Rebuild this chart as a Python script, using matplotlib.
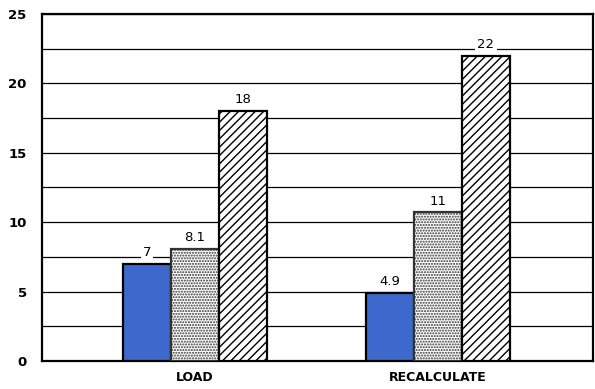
import matplotlib
matplotlib.use('Agg')
import matplotlib.pyplot as plt
import numpy as np

categories = ['LOAD', 'RECALCULATE']
series_a = [7, 4.9]
series_b = [8.1, 10.7]
series_c = [18, 22]
labels_a = ['7', '4.9']
labels_b = ['8.1', '11']
labels_c = ['18', '22']

plt.rcParams['hatch.linewidth'] = 1.0
fig = plt.figure(figsize=(5.95, 3.89), dpi=100)
ax = fig.add_axes([0.0706, 0.072, 0.926, 0.892])

x = np.arange(len(categories))
w = 0.1975
styles = [
    (series_a, labels_a, -w, dict(color='#3d68cc', edgecolor='black')),
    (series_b, labels_b, 0, dict(color='white', edgecolor='#333333', hatch='......')),
    (series_c, labels_c, w, dict(color='white', edgecolor='black', hatch='////')),
]
for vals, labs, off, kw in styles:
    ax.bar(x + off, vals, w, linewidth=1.6, zorder=3, **kw)
    for xi, v, t in zip(x + off, vals, labs):
        ax.text(xi, v + 0.35, t, ha='center', va='bottom', fontsize=9.5,
                zorder=4, bbox=dict(facecolor='white', edgecolor='none', pad=1.5))

ax.set_xlim(-0.63, 1.638)
ax.set_ylim(0, 25)
ax.set_yticks(np.arange(0, 26, 2.5))
ax.set_yticklabels([str(int(v)) if v % 5 == 0 else '' for v in np.arange(0, 26, 2.5)],
                   fontsize=9.5, fontweight='bold')
ax.yaxis.grid(True, color='black', linewidth=0.9, zorder=0)
ax.set_axisbelow(True)
ax.tick_params(length=0, pad=11)
ax.tick_params(axis='x', pad=7)
ax.set_xticks(x)
ax.set_xticklabels(categories, fontsize=9, fontweight='bold')
for s in ax.spines.values():
    s.set_linewidth(1.6)

plt.savefig('out.png')
